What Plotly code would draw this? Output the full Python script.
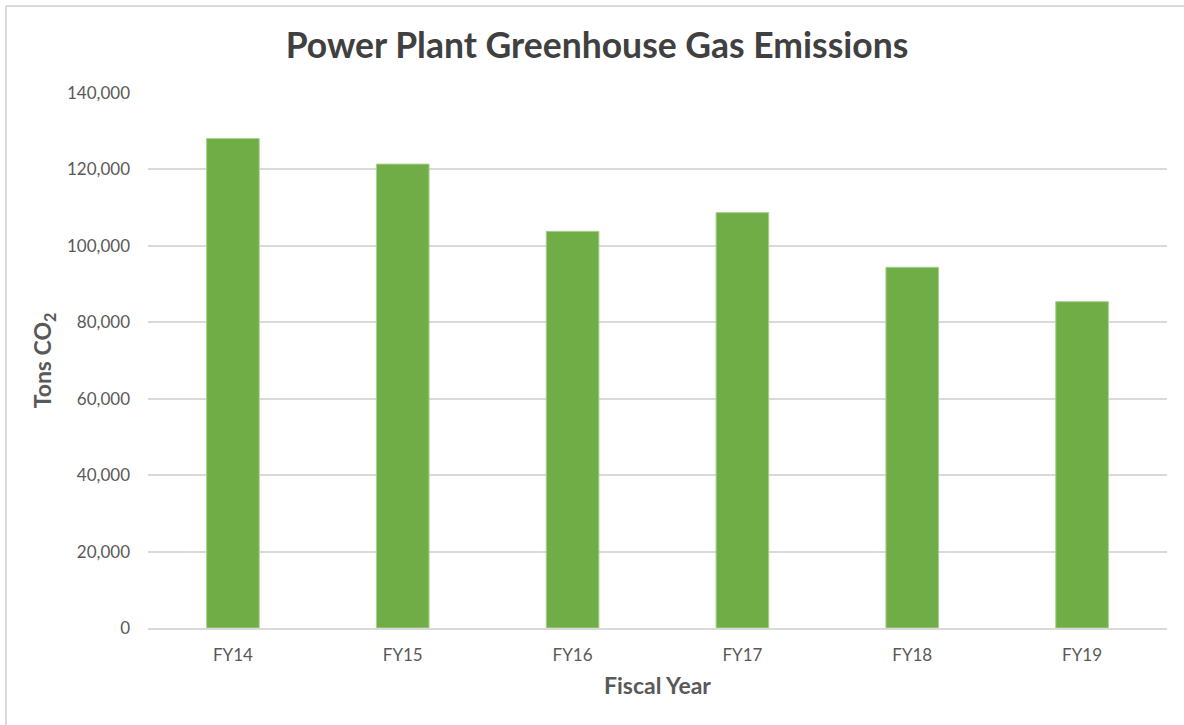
import plotly.graph_objects as go

categories = ["FY14", "FY15", "FY16", "FY17", "FY18", "FY19"]
emissions = [128100, 121400, 103800, 108700, 94400, 85400]
y_ticks = [0, 20000, 40000, 60000, 80000, 100000, 120000, 140000]

W, H = 1184, 725
L, R, T, B = 148, 17, 93, 97
pw, ph = W - L - R, H - T - B

FONT = "Lato"
TXT = "#595959"

fig = go.Figure()
fig.add_trace(go.Bar(
    x=categories, y=emissions,
    marker=dict(color="#70AD47", line=dict(color="#A9D18E", width=1)),
    width=0.31,
))

fig.update_layout(
    width=W, height=H,
    margin=dict(l=L, r=R, t=T, b=B),
    paper_bgcolor="white", plot_bgcolor="white",
    showlegend=False,
    title=dict(text="<b>Power Plant Greenhouse Gas Emissions</b>",
               x=597 / W, xref="container", xanchor="center",
               y=1 - 46 / H, yref="container", yanchor="middle",
               font=dict(family=FONT, size=35.5, color="#404040")),
    font=dict(family=FONT, color=TXT),
    xaxis=dict(
        showgrid=False, showline=True, linecolor="#D9D9D9", linewidth=2,
        ticks="", tickfont=dict(size=17, color=TXT), ticklabelstandoff=11,
        title=dict(text="<b>Fiscal Year</b>", font=dict(size=23, color=TXT), standoff=13),
    ),
    yaxis=dict(
        range=[0, 140000], tickvals=y_ticks, tickformat=",",
        showgrid=True, gridcolor="#D9D9D9", gridwidth=1.5,
        zeroline=False, showline=False, ticks="",
        tickfont=dict(size=17, color=TXT), ticklabelstandoff=17,
        title=dict(text="<b>Tons CO<sub>2</sub></b>", font=dict(size=23, color=TXT), standoff=8),
    ),
)

# chart border (left and top edges visible in the reference)
x_left = (6 - L) / pw
y_top = 1 + (T - 6) / ph
y_bot = -(B + 5) / ph
x_right = 1 + (R + 5) / pw
fig.add_shape(type="line", xref="paper", yref="paper",
              x0=x_left, x1=x_left, y0=y_bot, y1=y_top,
              line=dict(color="#D9D9D9", width=2))
fig.add_shape(type="line", xref="paper", yref="paper",
              x0=x_left, x1=x_right, y0=y_top, y1=y_top,
              line=dict(color="#D9D9D9", width=2))

fig.write_html("out.html", config={"displayModeBar": False},
               post_script="document.body.style.margin='0';document.body.style.overflow='hidden';")
